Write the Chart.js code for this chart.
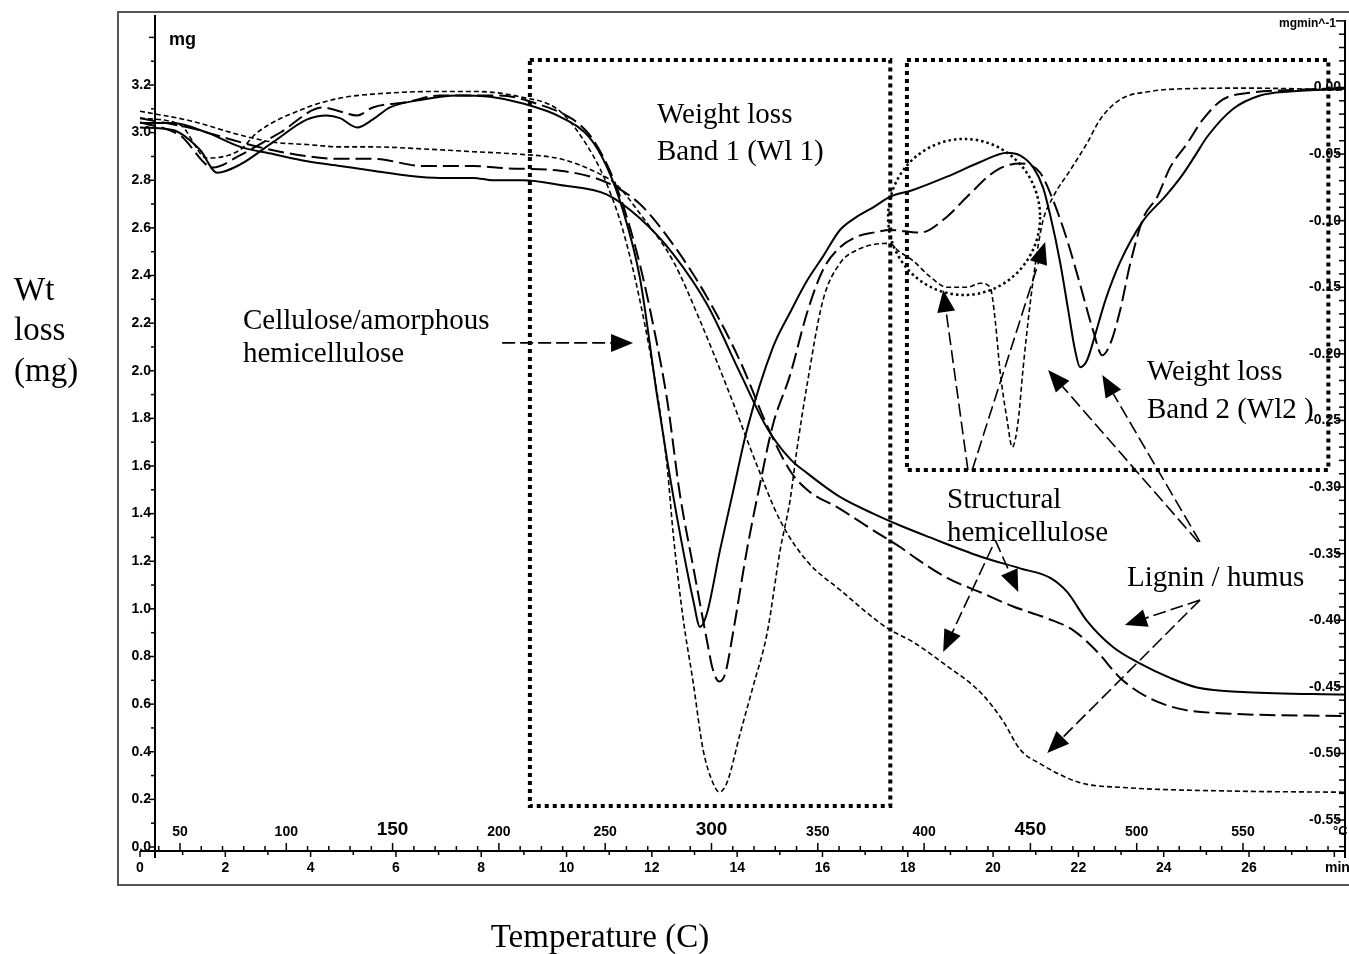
<!DOCTYPE html>
<html>
<head>
<meta charset="utf-8">
<title>TG / DTG</title>
<script src="https://cdn.jsdelivr.net/npm/chart.js@4.4.1/dist/chart.umd.min.js"></script>
<style>
  html, body { margin: 0; padding: 0; background: #fff; }
  #wrap { width: 1349px; height: 954px; }
</style>
</head>
<body>
<div id="wrap"><canvas id="tga" width="1349" height="954"></canvas></div>
<script>
// weight curves, left axis (mg) against time (min)
const tgSolidMin = [0,0.77,1.57,2.35,3.12,3.92,4.69,5.46,6.26,7.03,7.81,8.28,8.98,9.85,10.95,11.72,12.5,13.29,14.07,14.7,15.24,15.64,16.41,17.19,17.82,18.52,19.7,20.63,21.34,21.74,22.2,22.81,23.45,24.15,24.78,25.96,28.25];
const tgSolidMg = [3.04,3.04,3.0,2.94,2.91,2.88,2.86,2.84,2.82,2.81,2.81,2.8,2.8,2.78,2.74,2.64,2.49,2.28,1.99,1.76,1.63,1.57,1.47,1.4,1.35,1.3,1.22,1.17,1.13,1.07,0.95,0.84,0.77,0.71,0.67,0.65,0.64];

const tgLongMin = [0,1.17,2.35,3.28,4.69,5.46,6.64,7.81,8.61,9.85,10.95,11.72,12.5,13.29,14.07,14.7,15.24,15.64,16.41,17.19,17.82,18.13,18.92,19.7,20.47,21.27,21.88,22.44,22.98,23.61,24.38,25.56,28.25];
const tgLongMg = [3.06,3.02,2.96,2.92,2.89,2.89,2.86,2.86,2.85,2.84,2.79,2.70,2.53,2.31,2.04,1.77,1.58,1.5,1.42,1.33,1.26,1.22,1.13,1.07,1.01,0.96,0.91,0.82,0.71,0.63,0.58,0.56,0.55];

const tgShortMin = [0,1.17,2.35,3.12,3.92,4.69,5.46,6.8,7.81,8.84,9.85,10.62,11.18,11.72,12.5,13.13,13.83,14.47,15.01,15.64,16.41,17.51,18.13,18.92,19.7,20.23,20.63,21.1,22.04,23.05,25.56,28.25];
const tgShortMg = [3.09,3.05,2.99,2.96,2.95,2.94,2.94,2.93,2.92,2.91,2.89,2.84,2.78,2.66,2.46,2.21,1.9,1.6,1.37,1.2,1.08,0.92,0.86,0.76,0.65,0.53,0.41,0.35,0.27,0.25,0.235,0.23];

// derivative curves, right axis (mg/min)
const dtgSolidMin = [0,0.77,1.41,1.81,2.34,3.12,3.92,4.38,4.69,5.09,5.46,5.86,6.64,7.43,8.21,8.98,9.85,10.55,10.95,11.32,11.72,12.12,12.36,12.66,12.97,13.13,13.29,13.6,13.9,14.23,14.84,15.24,15.64,16.01,16.41,16.81,17.19,17.59,18.12,18.92,19.7,20.33,20.63,20.94,21.17,21.34,21.57,21.76,21.92,22.04,22.2,22.39,22.63,22.98,23.52,24.03,24.43,24.74,25.02,25.63,26.26,26.96,28.25];
const dtgSolidRate = [-0.030,-0.032,-0.047,-0.064,-0.058,-0.041,-0.024,-0.021,-0.023,-0.030,-0.024,-0.015,-0.009,-0.006,-0.007,-0.012,-0.022,-0.038,-0.060,-0.092,-0.143,-0.231,-0.280,-0.335,-0.385,-0.405,-0.395,-0.347,-0.304,-0.257,-0.195,-0.169,-0.145,-0.127,-0.107,-0.097,-0.090,-0.082,-0.077,-0.067,-0.056,-0.049,-0.051,-0.060,-0.075,-0.096,-0.131,-0.167,-0.197,-0.210,-0.205,-0.186,-0.160,-0.131,-0.100,-0.082,-0.066,-0.051,-0.037,-0.016,-0.006,-0.003,-0.001];

const dtgLongMin = [0,0.94,1.71,2.34,3.28,4.29,4.69,5.09,5.46,6.26,7.03,8.44,9.38,10.15,10.55,10.95,11.32,11.72,12.08,12.36,12.66,12.97,13.29,13.43,13.58,13.72,13.9,14.23,14.54,14.84,15.24,15.64,16.01,16.41,16.81,17.19,17.59,18.29,18.92,19.39,20.09,20.63,21.1,21.41,21.74,22.04,22.34,22.56,22.74,22.98,23.21,23.52,23.85,24.15,24.55,24.92,25.39,26.03,26.96,28.25];
const dtgLongRate = [-0.026,-0.036,-0.060,-0.051,-0.034,-0.015,-0.018,-0.021,-0.015,-0.011,-0.006,-0.006,-0.013,-0.024,-0.036,-0.058,-0.088,-0.133,-0.186,-0.235,-0.306,-0.360,-0.415,-0.437,-0.446,-0.440,-0.410,-0.347,-0.297,-0.253,-0.216,-0.169,-0.137,-0.120,-0.112,-0.109,-0.107,-0.109,-0.097,-0.082,-0.062,-0.057,-0.064,-0.085,-0.115,-0.148,-0.182,-0.201,-0.193,-0.167,-0.133,-0.098,-0.082,-0.060,-0.042,-0.024,-0.009,-0.004,-0.002,-0.0005];

const dtgShortMin = [0,0.94,1.57,2.34,2.74,3.92,4.69,5.46,7.03,7.81,8.91,9.85,10.62,10.95,11.32,11.72,12.15,12.36,12.5,12.73,12.97,13.2,13.43,13.58,13.76,14.07,14.37,14.7,15.01,15.24,15.4,15.64,16.01,16.41,16.81,17.19,17.59,17.75,18.12,18.52,18.92,19.39,19.7,19.93,20.05,20.16,20.33,20.45,20.59,20.7,20.87,21.03,21.17,21.41,21.81,22.2,22.51,22.98,23.68,24.45,26.03,28.25];
const dtgShortRate = [-0.023,-0.028,-0.053,-0.047,-0.034,-0.015,-0.008,-0.005,-0.003,-0.003,-0.007,-0.018,-0.051,-0.073,-0.107,-0.160,-0.235,-0.285,-0.335,-0.398,-0.447,-0.497,-0.522,-0.529,-0.522,-0.485,-0.450,-0.410,-0.347,-0.310,-0.272,-0.223,-0.160,-0.132,-0.122,-0.118,-0.117,-0.122,-0.130,-0.142,-0.150,-0.150,-0.147,-0.150,-0.175,-0.212,-0.250,-0.270,-0.250,-0.212,-0.162,-0.124,-0.100,-0.082,-0.062,-0.042,-0.024,-0.009,-0.003,-0.001,-0.0005,-0.002];

// axis ticks
const minuteLabels = [0,2,4,6,8,10,12,14,16,18,20,22,24,26];
const tempLabels = [50,100,150,200,250,300,350,400,450,500,550];
const bigTemps = [150,300,450];
const mgLabels = [0.0,0.2,0.4,0.6,0.8,1.0,1.2,1.4,1.6,1.8,2.0,2.2,2.4,2.6,2.8,3.0,3.2];
const rateLabels = [0.00,-0.05,-0.10,-0.15,-0.20,-0.25,-0.30,-0.35,-0.40,-0.45,-0.50,-0.55];

// annotation shapes in (min, mg)
const bands = [[9.14, 17.59, 3.305, 0.172], [17.98, 27.86, 3.305, 1.583]];
const arrowsAt = [
  [8.49, 2.117, 11.56, 2.117],
  [19.41, 1.583, 18.83, 2.339],
  [19.51, 1.583, 21.22, 2.541],
  [20.05, 1.289, 20.59, 1.071],
  [19.98, 1.26, 18.83, 0.819],
  [24.81, 1.281, 21.29, 2.003],
  [24.85, 1.281, 22.56, 1.982],
  [24.85, 1.037, 23.09, 0.932],
  [24.85, 1.037, 21.27, 0.395]
];

const SANS = '"Liberation Sans", Arial, sans-serif';
const SERIF = '"Liberation Serif", "Times New Roman", serif';

function pts(xs, ys) {
  return xs.map((x, i) => ({ x: x, y: ys[i] }));
}

function arrow(ctx, x1, y1, x2, y2) {
  const a = Math.atan2(y2 - y1, x2 - x1);
  const L = 22, W = 9;
  const bx = x2 - L * Math.cos(a), by = y2 - L * Math.sin(a);
  ctx.save();
  ctx.strokeStyle = '#000';
  ctx.fillStyle = '#000';
  ctx.lineWidth = 1.6;
  ctx.setLineDash([13, 5]);
  ctx.beginPath();
  ctx.moveTo(x1, y1);
  ctx.lineTo(bx, by);
  ctx.stroke();
  ctx.setLineDash([]);
  ctx.beginPath();
  ctx.moveTo(x2, y2);
  ctx.lineTo(bx - W * Math.sin(a), by + W * Math.cos(a));
  ctx.lineTo(bx + W * Math.sin(a), by - W * Math.cos(a));
  ctx.closePath();
  ctx.fill();
  ctx.restore();
}

const decor = {
  id: 'decor',
  beforeDatasetsDraw(chart) {
    const ctx = chart.ctx;
    const xs = chart.scales.x, xT = chart.scales.xT, yL = chart.scales.y, yR = chart.scales.y2;
    const area = chart.chartArea;
    const axisY = 851, leftX = 155, rightX = area.right;

    ctx.save();
    // outer frame
    ctx.strokeStyle = '#555';
    ctx.lineWidth = 2;
    ctx.strokeRect(118, 12, 1240, 873);

    ctx.strokeStyle = '#000';
    ctx.fillStyle = '#000';
    // left axis
    ctx.lineWidth = 2;
    ctx.beginPath();
    ctx.moveTo(leftX, area.top);
    ctx.lineTo(leftX, area.bottom);
    ctx.stroke();
    ctx.lineWidth = 1.5;
    for (let k = 0; k <= 34; k++) {
      const y = yL.getPixelForValue(k / 10);
      ctx.beginPath();
      ctx.moveTo(leftX - (k % 2 === 0 ? 6 : 4), y);
      ctx.lineTo(leftX, y);
      ctx.stroke();
    }
    ctx.font = 'bold 14px ' + SANS;
    ctx.textAlign = 'right';
    ctx.textBaseline = 'middle';
    mgLabels.forEach(v => ctx.fillText(v.toFixed(1), leftX - 4, yL.getPixelForValue(v)));
    ctx.textAlign = 'left';
    ctx.font = 'bold 18px ' + SANS;
    ctx.fillText('mg', 169, 40);

    // right axis
    ctx.lineWidth = 2;
    ctx.beginPath();
    ctx.moveTo(rightX, 20);
    ctx.lineTo(rightX, area.bottom);
    ctx.stroke();
    ctx.lineWidth = 1.5;
    for (let k = -57; k <= 5; k++) {
      const y = yR.getPixelForValue(k / 100);
      ctx.beginPath();
      ctx.moveTo(rightX - (k % 5 === 0 ? 9 : 6), y);
      ctx.lineTo(rightX, y);
      ctx.stroke();
    }
    ctx.font = 'bold 14px ' + SANS;
    ctx.textAlign = 'right';
    rateLabels.forEach(v => ctx.fillText(v.toFixed(2), rightX - 4, yR.getPixelForValue(v)));
    ctx.font = 'bold 12px ' + SANS;
    ctx.fillText('mgmin^-1', 1336, 24);

    // time / temperature axis
    ctx.lineWidth = 2;
    ctx.beginPath();
    ctx.moveTo(area.left, axisY);
    ctx.lineTo(rightX, axisY);
    ctx.stroke();
    ctx.lineWidth = 1.5;
    for (let t = 0; t <= 28; t++) {
      const x = xs.getPixelForValue(t);
      ctx.beginPath();
      ctx.moveTo(x, axisY);
      ctx.lineTo(x, axisY + (t % 2 === 0 ? 6 : 4));
      ctx.stroke();
    }
    for (let T = 40; T <= 590; T += 10) {
      const x = xT.getPixelForValue(T);
      if (x < leftX + 2 || x > rightX - 2) continue;
      ctx.beginPath();
      ctx.moveTo(x, axisY);
      ctx.lineTo(x, axisY - (T % 50 === 0 ? 8 : 5));
      ctx.stroke();
    }
    ctx.textAlign = 'center';
    ctx.font = 'bold 14px ' + SANS;
    minuteLabels.forEach(t => ctx.fillText(String(t), xs.getPixelForValue(t), 868));
    ctx.textAlign = 'left';
    ctx.fillText('min', 1325, 868);
    ctx.textAlign = 'center';
    tempLabels.forEach(T => {
      const big = bigTemps.includes(T);
      ctx.font = 'bold ' + (big ? 19 : 14) + 'px ' + SANS;
      ctx.fillText(String(T), xT.getPixelForValue(T), big ? 830 : 832);
    });
    ctx.textAlign = 'left';
    ctx.font = 'bold 13px ' + SANS;
    ctx.fillText('\u00B0C', 1333, 831);

    // dotted band boxes
    ctx.lineWidth = 4;
    ctx.setLineDash([4, 4]);
    bands.forEach(b => {
      const x1 = xs.getPixelForValue(b[0]), x2 = xs.getPixelForValue(b[1]);
      const y1 = yL.getPixelForValue(b[2]), y2 = yL.getPixelForValue(b[3]);
      ctx.strokeRect(x1, y1, x2 - x1, y2 - y1);
    });
    // dotted circle
    ctx.lineWidth = 2.5;
    ctx.setLineDash([2.5, 3]);
    ctx.beginPath();
    ctx.ellipse(xs.getPixelForValue(19.32), yL.getPixelForValue(2.646), 76, 78, 0, 0, Math.PI * 2);
    ctx.stroke();
    ctx.restore();
  },
  afterDatasetsDraw(chart) {
    const ctx = chart.ctx;
    const xs = chart.scales.x, yL = chart.scales.y;
    arrowsAt.forEach(a => arrow(ctx,
      xs.getPixelForValue(a[0]), yL.getPixelForValue(a[1]),
      xs.getPixelForValue(a[2]), yL.getPixelForValue(a[3])));

    ctx.save();
    ctx.fillStyle = '#000';
    ctx.textBaseline = 'middle';
    ctx.textAlign = 'left';
    ctx.font = '29px ' + SERIF;
    ctx.fillText('Weight loss', 657, 115);
    ctx.fillText('Band 1 (Wl 1)', 657, 152);
    ctx.fillText('Cellulose/amorphous', 243, 321);
    ctx.fillText('hemicellulose', 243, 354);
    ctx.fillText('Weight loss', 1147, 372);
    ctx.fillText('Band 2 (Wl2 )', 1147, 410);
    ctx.fillText('Structural', 947, 500);
    ctx.fillText('hemicellulose', 947, 533);
    ctx.fillText('Lignin / humus', 1127, 578);
    ctx.font = '33px ' + SERIF;
    ctx.fillText('Wt', 14, 291);
    ctx.fillText('loss', 14, 331);
    ctx.fillText('(mg)', 14, 372);
    ctx.textAlign = 'center';
    ctx.fillText('Temperature (C)', 600, 938);
    ctx.restore();
  }
};

const solid = { borderWidth: 2, borderDash: [] };
const longDash = { borderWidth: 2, borderDash: [16, 6] };
const shortDash = { borderWidth: 1.6, borderDash: [5, 3] };

new Chart(document.getElementById('tga'), {
  type: 'line',
  data: {
    datasets: [
      Object.assign({ label: 'TG 1', data: pts(tgSolidMin, tgSolidMg), yAxisID: 'y' }, solid),
      Object.assign({ label: 'TG 2', data: pts(tgLongMin, tgLongMg), yAxisID: 'y' }, longDash),
      Object.assign({ label: 'TG 3', data: pts(tgShortMin, tgShortMg), yAxisID: 'y' }, shortDash),
      Object.assign({ label: 'DTG 1', data: pts(dtgSolidMin, dtgSolidRate), yAxisID: 'y2' }, solid),
      Object.assign({ label: 'DTG 2', data: pts(dtgLongMin, dtgLongRate), yAxisID: 'y2' }, longDash),
      Object.assign({ label: 'DTG 3', data: pts(dtgShortMin, dtgShortRate), yAxisID: 'y2' }, shortDash)
    ]
  },
  options: {
    responsive: false,
    animation: false,
    layout: { padding: { left: 140, right: 4, top: 15, bottom: 96 } },
    plugins: { legend: { display: false }, tooltip: { enabled: false } },
    elements: {
      point: { radius: 0 },
      line: { borderColor: '#000', cubicInterpolationMode: 'monotone', fill: false }
    },
    scales: {
      x: { type: 'linear', display: false, min: 0, max: 28.25 },
      xT: { type: 'linear', axis: 'x', position: 'bottom', display: false, min: 31.19, max: 597.98 },
      y: { type: 'linear', display: false, min: -0.0462, max: 3.494 },
      y2: { type: 'linear', display: false, min: -0.5785, max: 0.0544 }
    }
  },
  plugins: [decor]
});
</script>
</body>
</html>
